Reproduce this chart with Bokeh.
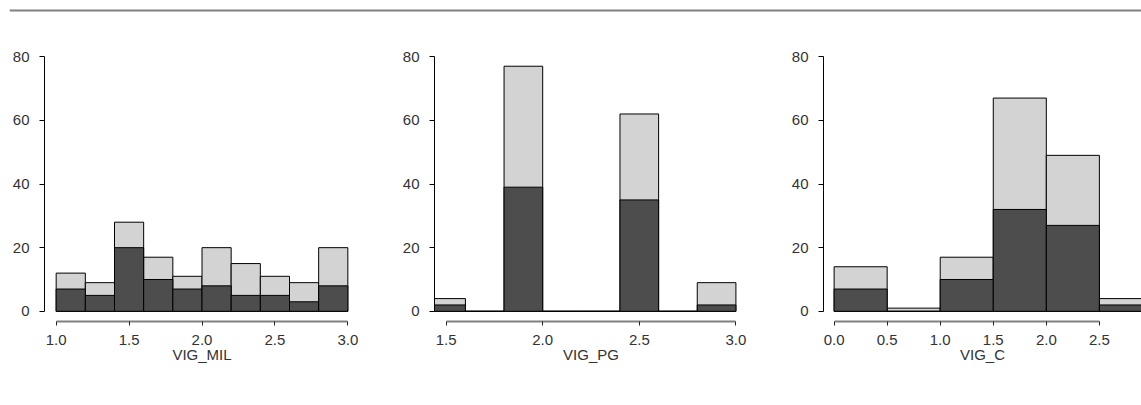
from bokeh.plotting import figure
from bokeh.layouts import column, row
from bokeh.models import Range1d, FixedTicker, PrintfTickFormatter, Span
from bokeh.embed import file_html
from bokeh.resources import INLINE

# ---- data (histogram bins, total counts and dark sub-group counts) ----
vig_mil_edges = [1.0, 1.2, 1.4, 1.6, 1.8, 2.0, 2.2, 2.4, 2.6, 2.8, 3.0]
vig_mil_total = [12, 9, 28, 17, 11, 20, 15, 11, 9, 20]
vig_mil_dark = [7, 5, 20, 10, 7, 8, 5, 5, 3, 8]

vig_pg_edges = [1.4, 1.6, 1.8, 2.0, 2.2, 2.4, 2.6, 2.8, 3.0]
vig_pg_total = [4, 0, 77, 0, 0, 62, 0, 9]
vig_pg_dark = [2, 0, 39, 0, 0, 35, 0, 2]

vig_c_edges = [0.0, 0.5, 1.0, 1.5, 2.0, 2.5, 3.0]
vig_c_total = [14, 1, 17, 67, 49, 4]
vig_c_dark = [7, 0, 10, 32, 27, 2]

y_ticks = [0, 20, 40, 60, 80]
vig_mil_ticks = [1.0, 1.5, 2.0, 2.5, 3.0]
vig_pg_ticks = [1.5, 2.0, 2.5, 3.0]
vig_c_ticks = [0.0, 0.5, 1.0, 1.5, 2.0, 2.5]

LIGHT = "#d3d3d3"
DARK = "#4d4d4d"
FONT = "Liberation Sans"
TXT = "#333333"


def make_panel(edges, total, dark, xlabel, xr, xbounds, xticks, width, bl, br):
    p = figure(width=width, height=368, x_range=Range1d(*xr),
               y_range=Range1d(-3.2, 83.2), output_backend="svg",
               toolbar_location=None, min_border_left=bl, min_border_right=br,
               min_border_top=26, min_border_bottom=67)
    p.outline_line_color = None
    p.grid.visible = False
    p.background_fill_color = "white"
    p.border_fill_color = "white"
    left = edges[:-1]
    right = edges[1:]
    p.quad(left=left, right=right, bottom=[0] * len(total), top=total,
           fill_color=LIGHT, line_color="black", line_width=1)
    p.quad(left=left, right=right, bottom=[0] * len(dark), top=dark,
           fill_color=DARK, line_color="black", line_width=1)

    xa = p.xaxis[0]
    xa.ticker = FixedTicker(ticks=xticks)
    xa.formatter = PrintfTickFormatter(format="%.1f")
    xa.bounds = xbounds
    xa.axis_line_color = "#808080"
    xa.axis_line_width = 2
    xa.major_tick_line_color = "#222222"
    xa.major_tick_out = 4
    xa.major_tick_in = 0
    xa.minor_tick_line_color = None
    xa.major_label_standoff = 9
    xa.major_label_text_font = FONT
    xa.major_label_text_font_size = "15px"
    xa.major_label_text_color = TXT
    xa.axis_label = xlabel
    xa.axis_label_text_font = FONT
    xa.axis_label_text_font_size = "15px"
    xa.axis_label_text_font_style = "normal"
    xa.axis_label_text_color = TXT
    xa.axis_label_standoff = -2

    ya = p.yaxis[0]
    ya.ticker = FixedTicker(ticks=y_ticks)
    ya.bounds = (0, 80)
    ya.axis_line_color = "black"
    ya.axis_line_width = 1
    ya.major_tick_line_color = "black"
    ya.major_tick_out = 5
    ya.major_tick_in = 0
    ya.minor_tick_line_color = None
    ya.major_label_standoff = 10
    ya.major_label_text_font = FONT
    ya.major_label_text_font_size = "15px"
    ya.major_label_text_color = TXT
    return p


p1 = make_panel(vig_mil_edges, vig_mil_total, vig_mil_dark, "VIG_MIL",
                (0.92, 3.08), (1.0, 3.0), vig_mil_ticks, 398, 44, 39)
p2 = make_panel(vig_pg_edges, vig_pg_total, vig_pg_dark, "VIG_PG",
                (1.44, 3.06), (1.5, 3.0), vig_pg_ticks, 387, 36, 38)
p3 = make_panel(vig_c_edges, vig_c_total, vig_c_dark, "VIG_C",
                (-0.1, 2.897), (0.0, 2.5), vig_c_ticks, 356, 38, 0)

top = figure(width=1141, height=20, x_range=Range1d(0, 1), y_range=Range1d(0, 20),
             output_backend="svg", toolbar_location=None, min_border=0,
             min_border_left=9)
top.axis.visible = False
top.grid.visible = False
top.outline_line_color = None
top.add_layout(Span(location=10, dimension="width", line_color="#808080",
                    line_width=2))

layout = column(top, row(p1, p2, p3))
open("out.html", "w").write(file_html(layout, INLINE))
